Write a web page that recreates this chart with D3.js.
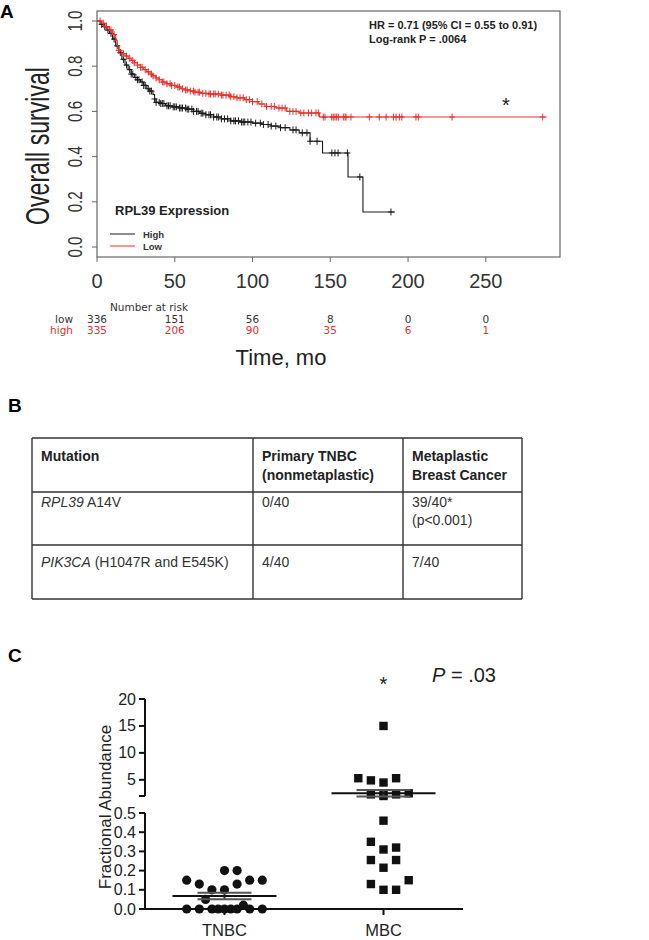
<!DOCTYPE html>
<html><head><meta charset="utf-8">
<script src="https://cdn.jsdelivr.net/npm/d3@7"></script>
<style>body{margin:0;background:#fff}svg{display:block}</style>
</head><body>
<svg id="c" width="649" height="940"></svg>
<script>
// ---------- Panel A data ----------
const kmTimeTicks=[0,50,100,150,200,250];
const kmSurvTicks=[0,0.2,0.4,0.6,0.8,1.0];
const highSteps=[[0,1.0],[2,0.985],[4,0.975],[6,0.96],[8,0.945],[10,0.92],[12,0.89],[14,0.86],[16,0.83],[18,0.805],[20,0.785],[22,0.765],[24,0.75],[26,0.74],[28,0.73],[30,0.715],[32,0.70],[34,0.69],[36,0.675],[37,0.655],[38,0.64],[41,0.635],[44,0.625],[48,0.62],[53,0.615],[58,0.61],[62,0.60],[66,0.592],[70,0.585],[75,0.575],[80,0.567],[86,0.558],[92,0.553],[100,0.548],[106,0.542],[112,0.535],[118,0.528],[124,0.518],[130,0.505],[137,0.468],[145,0.416],[161.4,0.31],[171,0.155]];
const highEnd=191.6;
const highCensor=[3,5,7,9,11,13,15,17,19,21,22,23,25,26,27,29,30,31,33,34,35,37,38,40,41,42,43,45,46,47,49,50,51,53,54,55,57,58,59,61,62,64,65,67,68,70,72,73,75,77,78,80,82,84,86,88,89,91,93,94,95,97,99,102,105,107,110,112,115,118,121,126,128,132,135,137,141.5,151,153,155,161,169,189];
const lowSteps=[[0,1.0],[3,0.99],[6,0.975],[8,0.96],[10,0.94],[12,0.915],[13,0.89],[14,0.87],[16,0.855],[18,0.845],[20,0.835],[22,0.825],[24,0.815],[26,0.805],[28,0.795],[30,0.785],[32,0.775],[34,0.765],[36,0.757],[38,0.748],[40,0.74],[42,0.73],[45,0.722],[48,0.715],[51,0.708],[54,0.70],[57,0.695],[60,0.69],[63,0.685],[67,0.68],[72,0.677],[80,0.672],[86,0.665],[90,0.66],[95,0.652],[100,0.643],[104,0.633],[108,0.622],[115,0.615],[122,0.60],[130,0.593],[143,0.575]];
const lowEnd=289;
const lowCensor=[2,4,6,9,11,14,17,19,21,23,24,26,28,29,31,33,35,36,38,40,42,43,45,47,48,50,52,53,55,57,58,60,62,63,65,66,68,70,72,73,75,76,78,80,81,83,85,86,88,90,92,94,96,98,100,103,106,109,112,114,117,119,121,124,126,128,131,133,136,138,140.8,142.3,145.5,146.6,150.9,151.9,153,154.1,155.2,158.4,159.5,160.1,163.3,175.1,181.5,185.9,190.6,192.3,194.4,196,205.1,206.6,228.3,286.6];
const riskLabels=["low","high"];
const riskLow=[336,151,56,8,0,0];
const riskHigh=[335,206,90,35,6,1];
const legendLabels=["High","Low"];

// ---------- Panel B data ----------
const tableHeader=[["Mutation"],["Primary TNBC","(nonmetaplastic)"],["Metaplastic","Breast Cancer"]];
const tableRows=[
  [[[{t:"RPL39",i:true},{t:" A14V",i:false}]],[[{t:"0/40"}]],[[{t:"39/40*"}],[{t:"(p<0.001)"}]]],
  [[[{t:"PIK3CA",i:true},{t:" (H1047R and E545K)",i:false}]],[[{t:"4/40"}]],[[{t:"7/40"}]]]
];

// ---------- Panel C data ----------
const groupsC=["TNBC","MBC"];
const tnbcValues=[0.2,0.2,0.15,0.15,0.15,0.13,0.13,0.1,0.1,0.05,0.02,0,0,0,0,0,0,0,0,0];
const tnbcSlots=[0,1,-3,2,3,-2,1,-1,0,-1.5,1.5,-3,-2,-1,-0.5,0,0.5,1,2,3];
const mbcValues=[15,5.3,4.9,4.5,5.3,2.3,2.3,2.0,2.3,2.5,0.46,0.35,0.31,0.32,0.255,0.255,0.215,0.13,0.15,0.1,0.1];
const mbcSlots=[0,-2,-1,0,1,-1,0,0,1,2,0,-1,0,1,-1,1,0,-1,2,0,1];
const groupMeans=[0.068,2.5];
const groupSem=[0.017,0.6];
const upperTicks=[5,10,15,20];
const lowerTicks=[0,0.1,0.2,0.3,0.4,0.5];

const svg=d3.select("#c");
const SANS="'Liberation Sans', Arial, Helvetica, sans-serif";
const RED="#e8302c", DARK="#1a1a1a";

// ================= Panel A =================
const A={l:97,r:560,t:11,b:257};
const xA=d3.scaleLinear().domain([0,297.7]).range([A.l,A.r]);
const yA=d3.scaleLinear().domain([0,1]).range([247,21]);
const gA=svg.append("g");
gA.append("text").attr("x",0).attr("y",18).attr("font-family",SANS).attr("font-weight","bold").attr("font-size",19).text("A");
gA.append("rect").attr("x",A.l).attr("y",A.t).attr("width",A.r-A.l).attr("height",A.b-A.t).attr("fill","none").attr("stroke","#666").attr("stroke-width",1.2);
gA.selectAll(".xt").data(kmTimeTicks).join("line").attr("x1",d=>xA(d)).attr("x2",d=>xA(d)).attr("y1",A.b).attr("y2",A.b+5).attr("stroke","#666");
gA.selectAll(".xl").data(kmTimeTicks).join("text").attr("x",d=>xA(d)).attr("y",288).attr("text-anchor","middle").attr("font-family",SANS).attr("font-size",20).attr("fill","#333").text(d=>d);
gA.selectAll(".yt").data(kmSurvTicks).join("line").attr("x1",A.l-5).attr("x2",A.l).attr("y1",d=>yA(d)).attr("y2",d=>yA(d)).attr("stroke","#666");
gA.selectAll(".yl").data(kmSurvTicks).join("text").attr("transform",d=>`translate(82,${yA(d)}) rotate(-90) scale(0.76,1)`).attr("text-anchor","middle").attr("font-family",SANS).attr("font-size",20).attr("fill","#333").text(d=>d.toFixed(1));
gA.append("text").attr("transform","translate(49,146) rotate(-90) scale(0.7,1)").attr("text-anchor","middle").attr("font-family",SANS).attr("font-size",33).attr("fill","#222").text("Overall survival");

const stepLine=d3.line().x(d=>xA(d[0])).y(d=>yA(d[1])).curve(d3.curveStepAfter);
function survAt(steps,t){let s=steps[0][1];for(const p of steps){if(p[0]<=t)s=p[1];}return s;}
function drawKM(steps,end,cens,color){
  const pts=steps.concat([[end,steps[steps.length-1][1]]]);
  gA.append("path").attr("d",stepLine(pts)).attr("fill","none").attr("stroke",color).attr("stroke-width",1.1);
  const g=gA.append("g").attr("stroke",color).attr("stroke-width",1);
  cens.forEach(c=>{const x=xA(c),y=yA(survAt(steps,c));
    g.append("line").attr("x1",x).attr("x2",x).attr("y1",y-3.5).attr("y2",y+3.5);
    g.append("line").attr("x1",x-3).attr("x2",x+3).attr("y1",y).attr("y2",y);});
}
drawKM(highSteps,highEnd,highCensor,DARK);
drawKM(lowSteps,lowEnd,lowCensor,RED);

gA.append("text").attr("x",369).attr("y",29).attr("font-family",SANS).attr("font-weight","bold").attr("font-size",11).attr("fill","#222").text("HR = 0.71 (95% CI = 0.55 to 0.91)");
gA.append("text").attr("x",369).attr("y",43).attr("font-family",SANS).attr("font-weight","bold").attr("font-size",11).attr("fill","#222").text("Log-rank P = .0064");
gA.append("text").attr("x",506).attr("y",112).attr("text-anchor","middle").attr("font-family",SANS).attr("font-size",20).attr("fill","#222").text("*");
gA.append("text").attr("x",115).attr("y",215).attr("font-family",SANS).attr("font-weight","bold").attr("font-size",13).attr("fill","#222").text("RPL39 Expression");
legendLabels.forEach((lab,i)=>{const y=234+i*12;
  gA.append("line").attr("x1",110).attr("x2",135).attr("y1",y).attr("y2",y).attr("stroke",i?RED:DARK).attr("stroke-width",1);
  gA.append("text").attr("x",143).attr("y",y+3.5).attr("font-family",SANS).attr("font-weight","bold").attr("font-size",9.5).attr("fill","#333").text(lab);});
const RF="'DejaVu Sans', Verdana, sans-serif";
gA.append("text").attr("x",149).attr("y",311).attr("text-anchor","middle").attr("font-family",RF).attr("font-size",10.5).attr("fill","#333").text("Number at risk");
[riskLow,riskHigh].forEach((arr,i)=>{const y=323+i*11,col=i?RED:"#333";
  gA.append("text").attr("x",73).attr("y",y).attr("text-anchor","end").attr("font-family",RF).attr("font-size",10.5).attr("fill",col).text(riskLabels[i]);
  gA.selectAll(null).data(arr).join("text").attr("x",(d,j)=>xA(kmTimeTicks[j])).attr("y",y).attr("text-anchor","middle").attr("font-family",RF).attr("font-size",10.5).attr("fill",col).text(d=>d);});
gA.append("text").attr("x",281).attr("y",365).attr("text-anchor","middle").attr("font-family",SANS).attr("font-size",22).attr("fill","#222").text("Time, mo");

// ================= Panel B =================
const gB=svg.append("g");
gB.append("text").attr("x",8).attr("y",412).attr("font-family",SANS).attr("font-weight","bold").attr("font-size",19).text("B");
const colX=[32,253,403,522], rowY=[438,492,545,599];
colX.forEach(x=>gB.append("line").attr("x1",x).attr("x2",x).attr("y1",rowY[0]).attr("y2",rowY[3]).attr("stroke","#333").attr("stroke-width",1.4));
rowY.forEach(y=>gB.append("line").attr("x1",colX[0]).attr("x2",colX[3]).attr("y1",y).attr("y2",y).attr("stroke","#333").attr("stroke-width",1.4));
tableHeader.forEach((lines,c)=>lines.forEach((s,k)=>gB.append("text").attr("x",colX[c]+9).attr("y",461+k*19).attr("font-family",SANS).attr("font-weight","bold").attr("font-size",14).attr("fill","#222").text(s)));
const rowBase=[507,567];
tableRows.forEach((row,r)=>row.forEach((lines,c)=>lines.forEach((parts,k)=>{
  const t=gB.append("text").attr("x",colX[c]+9).attr("y",rowBase[r]+k*18).attr("font-family",SANS).attr("font-size",14).attr("fill","#333").attr("xml:space","preserve");
  parts.forEach(p=>t.append("tspan").attr("font-style",p.i?"italic":"normal").text(p.t));})));

// ================= Panel C =================
const gC=svg.append("g");
gC.append("text").attr("x",8).attr("y",662).attr("font-family",SANS).attr("font-weight","bold").attr("font-size",19).text("C");
const xC=d3.scalePoint().domain(groupsC).range([145,463]).padding(0.5);
const yLow=d3.scaleLinear().domain([0,0.5]).range([909,813]);
const yUp=d3.scaleLinear().domain([2,20]).range([796,699]);
const yC=v=>v>=1?yUp(v):yLow(v);
const slotW=12.6;
const ax=gC.append("g").attr("stroke","#111").attr("stroke-width",2);
ax.append("line").attr("x1",145).attr("x2",145).attr("y1",yUp(20)).attr("y2",yUp(2));
ax.append("line").attr("x1",145).attr("x2",145).attr("y1",yLow(0.5)).attr("y2",yLow(0));
ax.append("line").attr("x1",144).attr("x2",463).attr("y1",yLow(0)).attr("y2",yLow(0));
upperTicks.concat([2]).forEach(v=>ax.append("line").attr("x1",139).attr("x2",145).attr("y1",yUp(v)).attr("y2",yUp(v)));
lowerTicks.forEach(v=>ax.append("line").attr("x1",139).attr("x2",145).attr("y1",yLow(v)).attr("y2",yLow(v)));
groupsC.forEach(g=>ax.append("line").attr("x1",xC(g)).attr("x2",xC(g)).attr("y1",yLow(0)).attr("y2",yLow(0)+6));
gC.selectAll(".ut").data(upperTicks).join("text").attr("x",136).attr("y",d=>yUp(d)+5.5).attr("text-anchor","end").attr("font-family",SANS).attr("font-size",16).attr("fill","#222").text(d=>d);
gC.selectAll(".lt").data(lowerTicks).join("text").attr("x",136).attr("y",d=>yLow(d)+5.5).attr("text-anchor","end").attr("font-family",SANS).attr("font-size",16).attr("fill","#222").text(d=>d.toFixed(1));
gC.selectAll(".gl").data(groupsC).join("text").attr("x",d=>xC(d)).attr("y",936).attr("text-anchor","middle").attr("font-family",SANS).attr("font-size",16.5).attr("fill","#222").text(d=>d);
gC.append("text").attr("transform","translate(111,807) rotate(-90)").attr("text-anchor","middle").attr("font-family",SANS).attr("font-size",17).attr("fill","#222").text("Fractional Abundance");
tnbcValues.forEach((v,i)=>gC.append("circle").attr("cx",xC("TNBC")+tnbcSlots[i]*slotW).attr("cy",yC(v)).attr("r",4.6).attr("fill","#111"));
mbcValues.forEach((v,i)=>{const cx=xC("MBC")+mbcSlots[i]*slotW,cy=yC(v);gC.append("rect").attr("x",cx-4.2).attr("y",cy-4.2).attr("width",8.4).attr("height",8.4).attr("fill","#111");});
groupsC.forEach((g,i)=>{const cx=xC(g),m=groupMeans[i],s=groupSem[i];
  const yy=v=>i?yUp(v):yLow(v);
  gC.append("line").attr("x1",cx).attr("x2",cx).attr("y1",yy(m+s)).attr("y2",yy(m-s)).attr("stroke","#444").attr("stroke-width",2);
  [m+s,m-s].forEach(v=>gC.append("line").attr("x1",cx-27).attr("x2",cx+27).attr("y1",yy(v)).attr("y2",yy(v)).attr("stroke","#555").attr("stroke-width",2));
  gC.append("line").attr("x1",cx-52).attr("x2",cx+52).attr("y1",yy(m)).attr("y2",yy(m)).attr("stroke","#111").attr("stroke-width",2);});
gC.append("text").attr("x",xC("MBC")).attr("y",691).attr("text-anchor","middle").attr("font-family",SANS).attr("font-size",20).attr("fill","#222").text("*");
const pt=gC.append("text").attr("x",432).attr("y",682).attr("font-family",SANS).attr("font-size",20).attr("fill","#222");
pt.append("tspan").attr("font-style","italic").text("P");
pt.append("tspan").text(" = .03");
</script>
</body></html>
